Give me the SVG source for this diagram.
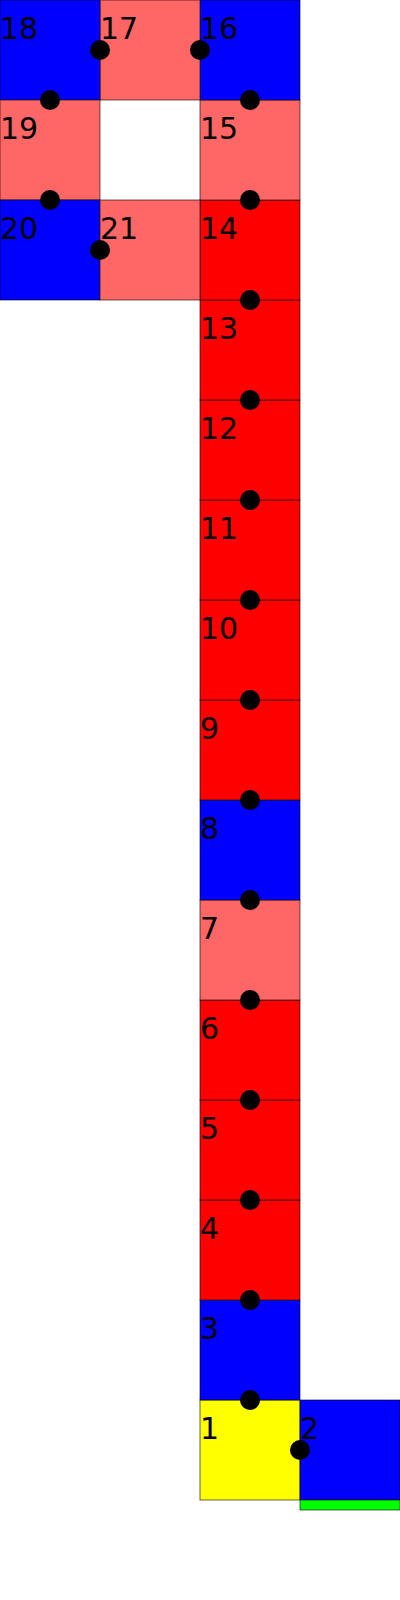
<svg xmlns="http://www.w3.org/2000/svg" width="400" height="1600" viewBox="0 0 400 1600">
<style>
.sq{stroke:#000;stroke-opacity:0.6;stroke-width:1}
.b{fill:#0000ff}.r{fill:#ff0000}.l{fill:#ff6666}.y{fill:#ffff00}.g{fill:#00ff00}
text{font-family:"DejaVu Sans",sans-serif;font-size:30px;fill:#000}
.d{fill:#000}
</style>
<rect width="400" height="1600" fill="#fff"/>
<g id="nodes">
<g id="n1"><rect class="sq y" x="200" y="1400" width="100" height="100"/><text x="0" y="1439" transform="translate(200,0)">1</text></g>
<g id="n2"><rect class="sq b" x="300" y="1400" width="100" height="100"/><rect class="sq g" x="300" y="1500" width="100" height="10"/><text x="300" y="1439">2</text></g>
<g id="n3"><rect class="sq b" x="200" y="1300" width="100" height="100"/><text x="200" y="1339">3</text></g>
<g id="n4"><rect class="sq r" x="200" y="1200" width="100" height="100"/><text x="200" y="1239">4</text></g>
<g id="n5"><rect class="sq r" x="200" y="1100" width="100" height="100"/><text x="200" y="1139">5</text></g>
<g id="n6"><rect class="sq r" x="200" y="1000" width="100" height="100"/><text x="200" y="1039">6</text></g>
<g id="n7"><rect class="sq l" x="200" y="900" width="100" height="100"/><text x="200" y="939">7</text></g>
<g id="n8"><rect class="sq b" x="200" y="800" width="100" height="100"/><text x="200" y="839">8</text></g>
<g id="n9"><rect class="sq r" x="200" y="700" width="100" height="100"/><text x="200" y="739">9</text></g>
<g id="n10"><rect class="sq r" x="200" y="600" width="100" height="100"/><text x="200" y="639">10</text></g>
<g id="n11"><rect class="sq r" x="200" y="500" width="100" height="100"/><text x="200" y="539">11</text></g>
<g id="n12"><rect class="sq r" x="200" y="400" width="100" height="100"/><text x="200" y="439">12</text></g>
<g id="n13"><rect class="sq r" x="200" y="300" width="100" height="100"/><text x="200" y="339">13</text></g>
<g id="n14"><rect class="sq r" x="200" y="200" width="100" height="100"/><text x="200" y="239">14</text></g>
<g id="n15"><rect class="sq l" x="200" y="100" width="100" height="100"/><text x="200" y="139">15</text></g>
<g id="n16"><rect class="sq b" x="200" y="0" width="100" height="100"/><text x="200" y="39">16</text></g>
<g id="n17"><rect class="sq l" x="100" y="0" width="100" height="100"/><text x="100" y="39">17</text></g>
<g id="n18"><rect class="sq b" x="0" y="0" width="100" height="100"/><text x="0" y="39">18</text></g>
<g id="n19"><rect class="sq l" x="0" y="100" width="100" height="100"/><text x="0" y="139">19</text></g>
<g id="n20"><rect class="sq b" x="0" y="200" width="100" height="100"/><text x="0" y="239">20</text></g>
<g id="n21"><rect class="sq l" x="100" y="200" width="100" height="100"/><text x="100" y="239">21</text></g>
</g>
<g id="connectors">
<circle class="d" cx="300" cy="1450" r="10"/>
<circle class="d" cx="250" cy="1400" r="10"/>
<circle class="d" cx="250" cy="1300" r="10"/>
<circle class="d" cx="250" cy="1200" r="10"/>
<circle class="d" cx="250" cy="1100" r="10"/>
<circle class="d" cx="250" cy="1000" r="10"/>
<circle class="d" cx="250" cy="900" r="10"/>
<circle class="d" cx="250" cy="800" r="10"/>
<circle class="d" cx="250" cy="700" r="10"/>
<circle class="d" cx="250" cy="600" r="10"/>
<circle class="d" cx="250" cy="500" r="10"/>
<circle class="d" cx="250" cy="400" r="10"/>
<circle class="d" cx="250" cy="300" r="10"/>
<circle class="d" cx="250" cy="200" r="10"/>
<circle class="d" cx="250" cy="100" r="10"/>
<circle class="d" cx="200" cy="50" r="10"/>
<circle class="d" cx="100" cy="50" r="10"/>
<circle class="d" cx="50" cy="100" r="10"/>
<circle class="d" cx="50" cy="200" r="10"/>
<circle class="d" cx="100" cy="250" r="10"/>
</g>
</svg>
